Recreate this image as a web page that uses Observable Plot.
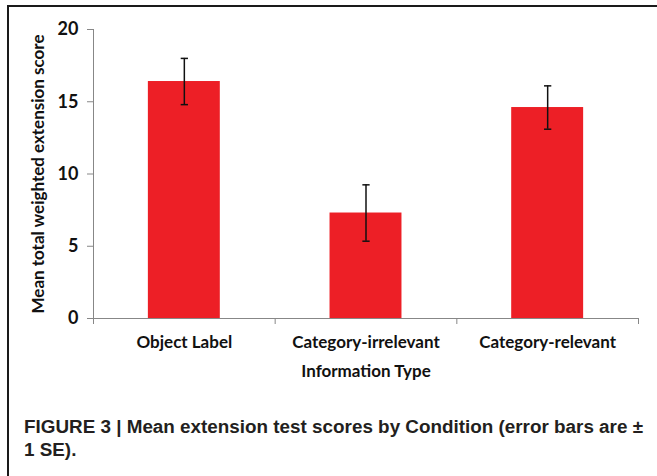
<!DOCTYPE html>
<html>
<head>
<meta charset="utf-8">
<script src="https://cdn.jsdelivr.net/npm/d3@7"></script>
<script src="https://cdn.jsdelivr.net/npm/@observablehq/plot@0.6"></script>
<style>
  html, body { margin: 0; padding: 0; background: #fff; }
  body { width: 657px; height: 476px; position: relative; overflow: hidden; }
  #frame { position: absolute; left: 7px; top: 5px; width: 650px; height: 471px;
           border-top: 2px solid #1a1a1a; border-left: 2px solid #1a1a1a; box-sizing: border-box; }
  #chart { position: absolute; left: 10px; top: 7px; }
  #caption { position: absolute; left: 24px; top: 416px;
             font-family: "Liberation Sans", Arial, sans-serif;
             font-weight: bold; font-size: 18px; line-height: 23px; color: #231f20; }
  #caption span { display: block; white-space: nowrap; transform-origin: 0 50%; width: max-content; }
</style>
</head>
<body>
<div id="frame"></div>
<div id="chart"></div>
<div id="caption"><span>FIGURE 3 | Mean extension test scores by Condition (error bars are ±</span><span>1 SE).</span></div>
<script>
const categories = ["Object Label", "Category-irrelevant", "Category-relevant"];
const means = [16.4, 7.3, 14.6];
const se = [1.6, 1.95, 1.5];
const yTicks = [0, 5, 10, 15, 20];
const xTitle = "Information Type";
const yTitle = "Mean total weighted extension score";

const data = categories.map((c, i) => ({i, category: c, mean: means[i], lo: means[i] - se[i], hi: means[i] + se[i]}));

const font = "Lato, 'Open Sans', sans-serif";
const axisGrey = "#878787";
const fs = 17;

const plot = Plot.plot({
  width: 647,
  height: 390,
  marginLeft: 83,
  marginRight: 19,
  marginTop: 22,
  marginBottom: 79,
  style: {fontFamily: font, fontWeight: "bold", fontSize: fs + "px", color: "#111", background: "transparent", overflow: "visible"},
  x: {domain: [0, 3], axis: null},
  y: {domain: [0, 20], axis: null},
  marks: [
    Plot.rectY(data, {x1: d => d.i + 0.302, x2: d => d.i + 0.698, y1: 0, y2: "mean", fill: "#ed1f26"}),
    Plot.ruleX(data, {x: d => d.i + 0.5, y1: "lo", y2: "hi", stroke: "#111", strokeWidth: 1.5}),
    Plot.link(data, {x1: d => d.i + 0.48, x2: d => d.i + 0.52, y1: "hi", y2: "hi", stroke: "#111", strokeWidth: 1.5}),
    Plot.link(data, {x1: d => d.i + 0.48, x2: d => d.i + 0.52, y1: "lo", y2: "lo", stroke: "#111", strokeWidth: 1.5}),
    Plot.ruleX([0], {y1: 0, y2: 20, stroke: axisGrey, strokeWidth: 1}),
    Plot.ruleY([0], {x1: 0, x2: 3, stroke: axisGrey, strokeWidth: 1}),
    Plot.axisY({ticks: yTicks, tickSize: 6, tickPadding: 9, stroke: axisGrey, label: null,
                fontSize: fs + 1, fontWeight: "bold", fill: "#111"}),
    Plot.axisX({ticks: [0, 1, 2, 3], tickSize: 6, tickFormat: () => "", stroke: axisGrey, label: null}),
    Plot.text(data, {x: d => d.i + 0.5, y: 0, text: "category", dy: 24, fontSize: fs, fontWeight: "bold", fill: "#111"}),
    Plot.text([xTitle], {frameAnchor: "bottom", dy: 58, fontSize: fs, fontWeight: "bold", fill: "#111"}),
    Plot.text([yTitle], {frameAnchor: "left", textAnchor: "middle", dx: -55, rotate: -90, fontSize: fs, fontWeight: "bold", fill: "#111"})
  ]
});
document.getElementById("chart").appendChild(plot);

// fit caption line 1 to the reference width
const spans = document.querySelectorAll("#caption span");
const w = spans[0].getBoundingClientRect().width;
const k = 619 / w;
spans.forEach(s => { s.style.transform = `scaleX(${k})`; });
</script>
</body>
</html>
